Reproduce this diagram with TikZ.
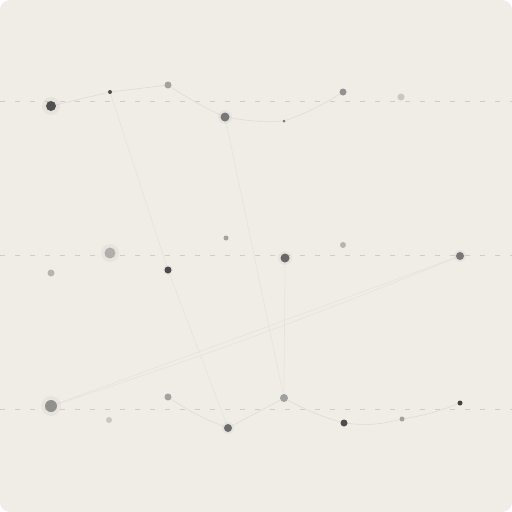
\documentclass[tikz,border=0pt]{standalone}
\usetikzlibrary{positioning,backgrounds}
\definecolor{papel}{HTML}{F0EDE7}
\definecolor{guia}{HTML}{D0CCC6}
\definecolor{hilo}{HTML}{DFDBD4}
\definecolor{tinta}{HTML}{4E4E4E}
\definecolor{medio}{HTML}{777777}
\definecolor{suave}{HTML}{A2A2A0}
\definecolor{tenue}{HTML}{C9C7C3}

\begin{document}
\begin{tikzpicture}[
  x=1pt, y=-1pt,
  punto/.style={circle, inner sep=0pt, minimum size=#1},
  guide/.style={guia, line width=0.9pt, dash pattern=on 5pt off 10pt},
  hebra/.style={hilo, line width=0.6pt},
  hebra tenue/.style={hilo!60!papel, line width=0.6pt}
]
  \useasboundingbox (0,0) rectangle (512,512);

  % fila superior
  \node[punto=10pt, fill=tinta]  (a1) at (51,106)  {};
  \node[punto=4pt,  fill=tinta]  (a2) at (110,92)  {};
  \node[punto=7pt,  fill=suave]  (a3) at (168,85)  {};
  \node[punto=9pt,  fill=medio]  (a4) at (225,117) {};
  \node[punto=3pt,  fill=medio]  (a5) at (284,121) {};
  \node[punto=7pt,  fill=medio!80!white] (a6) at (343,92) {};
  \node[punto=7pt,  fill=tenue]  (a7) at (401,97)  {};

  % fila central
  \node[punto=7pt,  fill=suave!80!white] (b1) at (51,273) {};
  \node[punto=11pt, fill=tenue!90!black] (b2) at (110,253) {};
  \node[punto=7pt,  fill=tinta!90!black] (b3) at (168,270) {};
  \node[punto=5pt,  fill=suave]  (b4) at (226,238) {};
  \node[punto=9pt,  fill=medio!85!black] (b5) at (285,258) {};
  \node[punto=6pt,  fill=suave!80!white] (b6) at (343,245) {};
  \node[punto=8pt,  fill=medio]  (b7) at (460,256) {};

  % fila inferior
  \node[punto=12pt, fill=suave!90!black] (c1) at (51,406) {};
  \node[punto=6pt,  fill=tenue]  (c2) at (109,420) {};
  \node[punto=7pt,  fill=suave]  (c3) at (168,397) {};
  \node[punto=8pt,  fill=medio!90!black] (c4) at (228,428) {};
  \node[punto=8pt,  fill=medio!70!white] (c5) at (284,398) {};
  \node[punto=7pt,  fill=tinta]  (c6) at (344,423) {};
  \node[punto=5pt,  fill=suave]  (c7) at (402,419) {};
  \node[punto=5pt,  fill=tinta!85!black] (c8) at (460,403) {};

  % halos
  \foreach \n/\r in {a1/9, a4/7, b2/9, b5/7, b7/6, c1/10, b3/5, c4/6}
    \fill[gray, opacity=0.08] (\n) circle (\r);

  \begin{scope}[on background layer]
    % fondo
    \fill[white] (0,0) rectangle (512,512);
    \fill[papel, rounded corners=10pt] (0,0) rectangle (512,512);
    % guias
    \foreach \yy in {101,255,409}
      \draw[guide] (0,\yy) -- (512,\yy);
    % hilos
    \draw[hebra] (a1) -- (a2) -- (a3);
    \draw[hebra] (a3) to[bend right=4] (a4);
    \draw[hebra] (a4) to[bend right=6] (a5);
    \draw[hebra] (a5) to[bend right=6] (a6);
    \draw[hebra tenue] (a2) -- (b3) -- (c4);
    \draw[hebra tenue] (a4) -- (c5);
    \draw[hebra tenue] (b5) -- (c5);
    \draw[hebra tenue] (b7) -- (c1);
    \draw[hebra tenue] (b7) to[bend left=2] (c1);
    \draw[hebra] (c3) to[bend right=6] (c4);
    \draw[hebra] (c4) -- (c5);
    \draw[hebra] (c5) to[bend right=6] (c6);
    \draw[hebra] (c6) to[bend right=10] (c7);
    \draw[hebra] (c7) to[bend right=6] (c8);
  \end{scope}
\end{tikzpicture}
\end{document}
